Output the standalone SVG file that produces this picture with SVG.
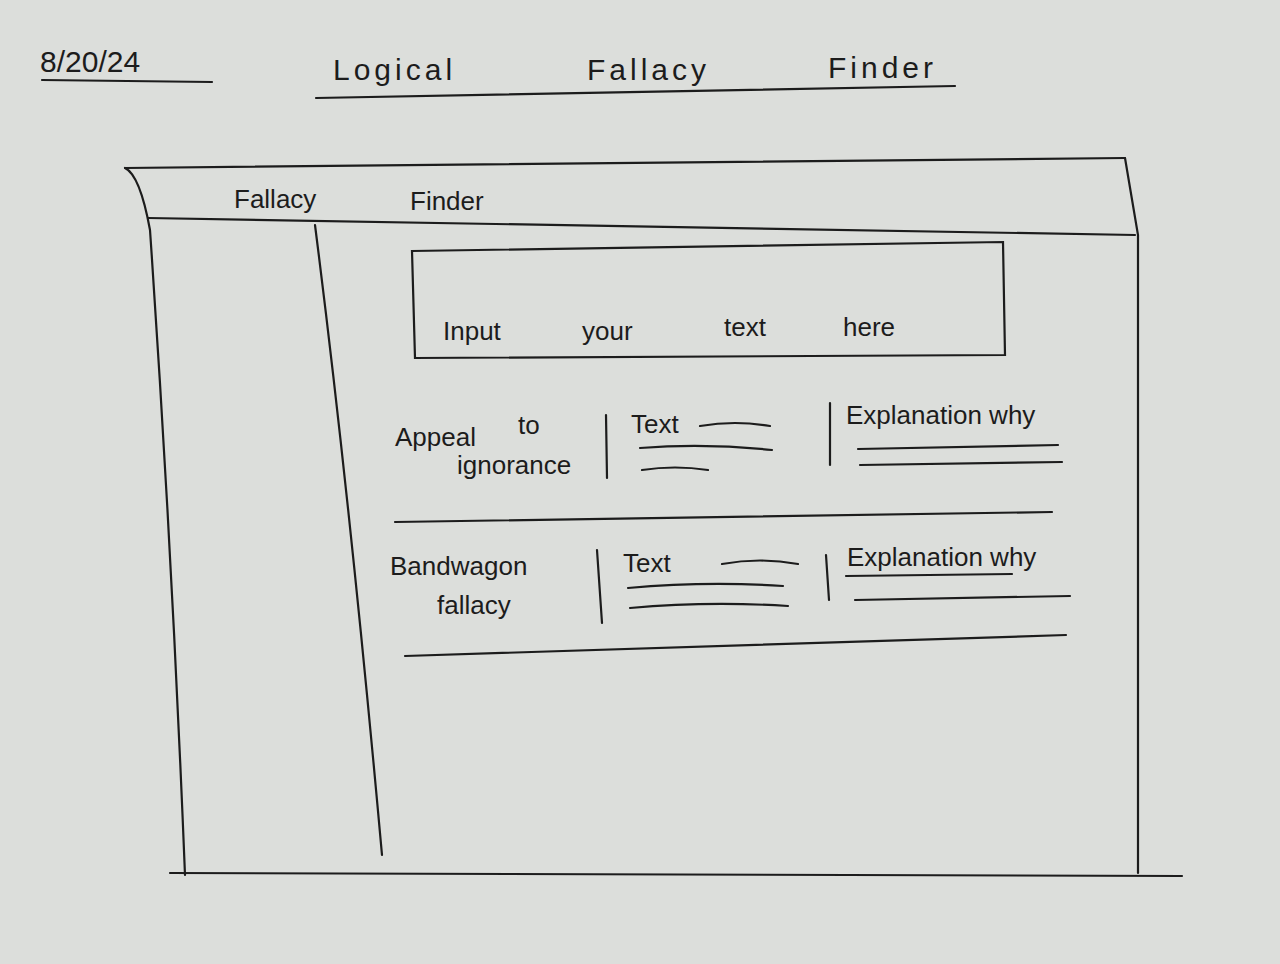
<svg xmlns="http://www.w3.org/2000/svg" width="1280" height="964" viewBox="0 0 1280 964">
<style>
.l{fill:none;stroke:#1c1c1c;stroke-width:2.2;stroke-linecap:round}
.t{font-family:"Liberation Sans",sans-serif;fill:#1c1c1c;font-size:30px}
.s{font-family:"Liberation Sans",sans-serif;fill:#1c1c1c;font-size:26px}
</style>
<rect width="1280" height="964" fill="#dcdedb"/>
<g id="header">
<text class="t" x="40" y="72" font-size="40">8/20/24</text>
<path class="l" d="M42 80 L212 82"/>
<text class="t" x="333" y="80" font-size="44" letter-spacing="4">Logical</text>
<text class="t" x="587" y="80" font-size="44" letter-spacing="4">Fallacy</text>
<text class="t" x="828" y="78" font-size="44" letter-spacing="4">Finder</text>
<path class="l" d="M316 98 L955 86"/>
</g>
<g id="window">
<path class="l" d="M125 168 L1125 158"/>
<path class="l" d="M125 168 Q140 175 150 230 Q172 550 185 875"/>
<path class="l" d="M1125 158 L1138 235 L1138 873"/>
<path class="l" d="M148 218 L1135 235"/>
<path class="l" d="M170 873 L1182 876"/>
<path class="l" d="M315 225 Q350 500 382 855"/>
<text class="s" x="234" y="208">Fallacy</text>
<text class="s" x="410" y="210">Finder</text>
</g>
<g id="input">
<path class="l" d="M412 251 L1003 242 L1005 355 L415 358 Z"/>
<text class="s" x="443" y="340">Input</text>
<text class="s" x="582" y="340">your</text>
<text class="s" x="724" y="336">text</text>
<text class="s" x="843" y="336">here</text>
</g>
<g id="row1">
<text class="s" x="395" y="446">Appeal</text>
<text class="s" x="518" y="434">to</text>
<text class="s" x="457" y="474">ignorance</text>
<path class="l" d="M606 415 L607 478"/>
<text class="s" x="631" y="433">Text</text>
<path class="l" d="M700 426 Q735 420 770 426 M640 448 Q705 443 772 450 M642 470 Q675 465 708 470"/>
<path class="l" d="M830 403 L830 465"/>
<text class="s" x="846" y="424">Explanation why</text>
<path class="l" d="M858 449 L1058 445 M860 465 L1062 462"/>
<path class="l" d="M395 522 L1052 512"/>
</g>
<g id="row2">
<text class="s" x="390" y="575">Bandwagon</text>
<text class="s" x="437" y="614">fallacy</text>
<path class="l" d="M597 550 L602 623"/>
<text class="s" x="623" y="572">Text</text>
<path class="l" d="M722 564 Q760 557 798 564 M628 588 Q706 581 783 586 M630 608 Q708 601 788 606"/>
<path class="l" d="M826 555 L829 600"/>
<text class="s" x="847" y="566">Explanation why</text>
<path class="l" d="M846 576 L1012 574 M855 600 L1070 596"/>
<path class="l" d="M405 656 L1066 635"/>
</g>
</svg>
